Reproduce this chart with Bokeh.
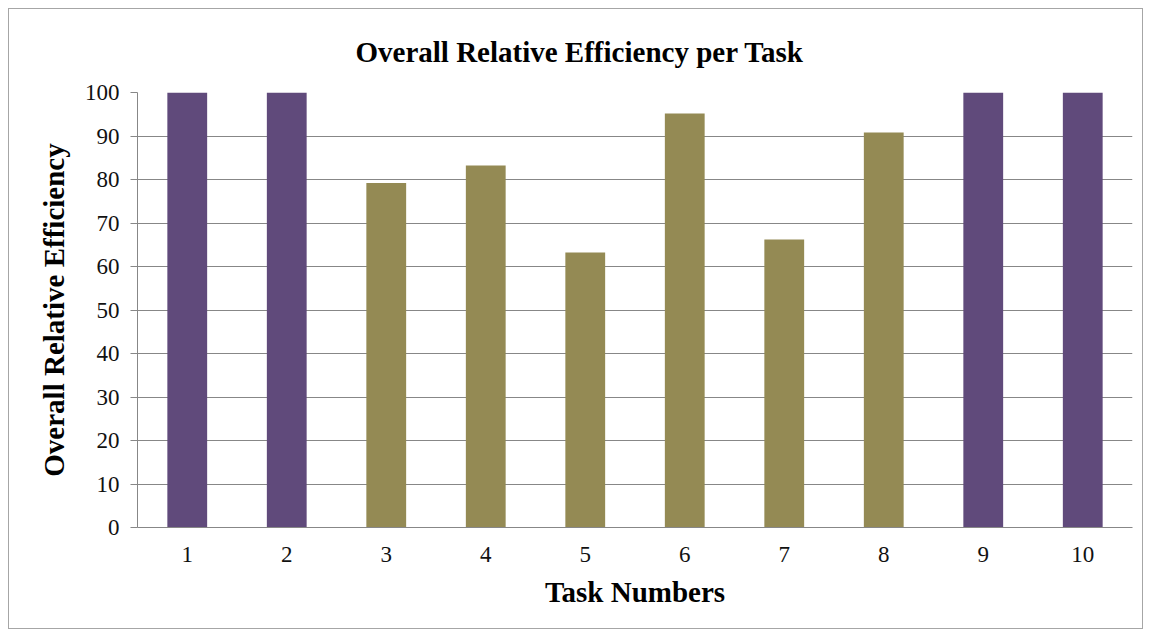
from bokeh.plotting import figure
from bokeh.models import Range1d, FixedTicker, ColumnDataSource
from bokeh.embed import file_html
from bokeh.resources import INLINE

# ---- data ----
tasks = [1, 2, 3, 4, 5, 6, 7, 8, 9, 10]
tick_labels = ["1", "2", "3", "4", "5", "6", "7", "8", "9", "10"]
efficiency = [100, 100, 79.2, 83.2, 63.2, 95.2, 66.2, 90.8, 100, 100]
y_ticks = [0, 10, 20, 30, 40, 50, 60, 70, 80, 90, 100]
title_text = "Overall Relative Efficiency per Task"
x_label = "Task Numbers"
y_label = "Overall Relative Efficiency"

PURPLE = "#604A7B"
OLIVE = "#948A54"
GRID = "#878787"
FONT = "Liberation Serif"

colors = [PURPLE if v >= 100 else OLIVE for v in efficiency]
src = ColumnDataSource(data=dict(x=tasks, top=efficiency, color=colors))

p = figure(width=1135, height=621, output_backend="svg", toolbar_location=None,
           x_range=Range1d(0.5, 10.5), y_range=Range1d(0, 100),
           min_border_left=128, min_border_right=12, min_border_top=83,
           min_border_bottom=103)
p.styles = {"border": "1px solid #a6a6a6", "margin": "8px"}
p.outline_line_color = None
p.background_fill_color = "white"
p.border_fill_color = "white"

p.title.text = title_text
p.title.text_font = FONT
p.title.text_font_style = "bold"
p.title.text_font_size = "29px"
p.title.text_color = "#000000"
p.title.align = "left"
p.title.offset = 218
p.title.standoff = 49

p.vbar(x="x", top="top", bottom=0, width=0.4, color="color", source=src,
       line_color=None)

# axes
p.xaxis.ticker = FixedTicker(ticks=tasks)
p.xaxis.major_label_overrides = {t: l for t, l in zip(tasks, tick_labels)}
p.yaxis.ticker = FixedTicker(ticks=y_ticks)
for ax in (p.xaxis, p.yaxis):
    ax.axis_line_color = GRID
    ax.axis_line_width = 1
    ax.major_tick_line_color = GRID
    ax.minor_tick_line_color = None
    ax.major_label_text_font = FONT
    ax.major_label_text_font_size = "23px"
    ax.major_label_text_color = "#111111"
    ax.axis_label_text_font = FONT
    ax.axis_label_text_font_style = "bold"
    ax.axis_label_text_font_size = "29px"
    ax.axis_label_text_color = "#000000"

p.xaxis.major_tick_out = 0
p.xaxis.major_tick_in = 0
p.xaxis.major_label_standoff = 19
p.xaxis.axis_label = x_label
p.xaxis.axis_label_standoff = 11

p.yaxis.major_tick_out = 7
p.yaxis.major_tick_in = 0
p.yaxis.major_label_standoff = 11
p.yaxis.axis_label = y_label
p.yaxis.axis_label_standoff = 12

p.xgrid.grid_line_color = None
p.ygrid.grid_line_color = GRID
p.ygrid.grid_line_width = 1

open("out.html", "w").write(file_html(p, INLINE))
